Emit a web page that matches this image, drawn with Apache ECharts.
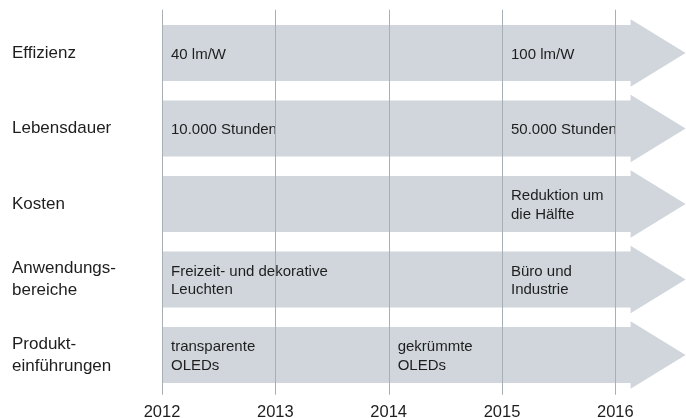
<!DOCTYPE html>
<html>
<head>
<meta charset="utf-8">
<script src="https://cdn.jsdelivr.net/npm/echarts@6/dist/echarts.min.js"></script>
<style>html,body{margin:0;padding:0;background:#fff}#c{width:686px;height:418px}</style>
</head>
<body>
<div id="c"></div>
<script>
// ---- data ----
const years = [2012, 2013, 2014, 2015, 2016];
const rowLabels = ['Effizienz', 'Lebensdauer', 'Kosten', 'Anwendungs-\nbereiche', 'Produkt-\neinführungen'];
const arrowStart = 2012;
const arrowEnd = 2016.62;
const eventRows = [0, 0, 1, 1, 2, 3, 3, 4, 4];
const eventYears = [2012, 2015, 2012, 2015, 2015, 2012, 2015, 2012, 2014];
const eventTexts = [
  '40 lm/W', '100 lm/W',
  '10.000 Stunden', '50.000 Stunden',
  'Reduktion um\ndie Hälfte',
  'Freizeit- und dekorative\nLeuchten', 'Büro und\nIndustrie',
  'transparente\nOLEDs', 'gekrümmte\nOLEDs'
];

const FONT = '"Liberation Sans", Arial, Helvetica, sans-serif';
const BAR = '#d0d6dc';
const LINE = '#a7afb7';
const TXT = '#1e1e1e';

const chart = echarts.init(document.getElementById('c'), null, {renderer: 'canvas'});

const arrowData = rowLabels.map((_, i) => [arrowStart, arrowEnd, i]);
const eventData = eventTexts.map((t, i) => [eventYears[i], eventRows[i], t]);

chart.setOption({
  animation: false,
  backgroundColor: '#fff',
  grid: {left: 162, top: 15.25, width: 453.33, height: 377.5, containLabel: false, outerBoundsMode: 'none'},
  xAxis: {
    type: 'value', min: 2012, max: 2016, interval: 1,
    axisLine: {show: false}, axisTick: {show: false}, splitLine: {show: false},
    axisLabel: {color: TXT, fontFamily: FONT, fontSize: 16.5, lineHeight: 17, margin: 11,
      formatter: v => String(v)}
  },
  yAxis: {
    type: 'category', data: rowLabels, inverse: true,
    axisLine: {show: false}, axisTick: {show: false}, splitLine: {show: false},
    axisLabel: {color: TXT, fontFamily: FONT, fontSize: 17, lineHeight: 22, align: 'left', margin: 150,
      padding: [4, 0, 0, 0]}
  },
  series: [
    {
      type: 'custom', z: 1, clip: false,
      data: arrowData,
      encode: {x: [0, 1], y: 2},
      renderItem: function (params, api) {
        const s = api.coord([api.value(0), api.value(2)]);
        const e = api.coord([api.value(1), api.value(2)]);
        const band = api.size([0, 1])[1];
        const hb = band * 0.371;
        const hh = band * 0.447;
        const headLen = 55;
        const hx = e[0] - headLen;
        return {
          type: 'polygon',
          shape: {points: [
            [s[0], s[1] - hb], [hx, s[1] - hb], [hx, s[1] - hh], [e[0], s[1]],
            [hx, s[1] + hh], [hx, s[1] + hb], [s[0], s[1] + hb]
          ]},
          style: {fill: BAR}
        };
      }
    },
    {
      type: 'custom', z: 2, clip: false,
      data: eventData,
      encode: {x: 0, y: 1},
      renderItem: function (params, api) {
        const p = api.coord([api.value(0), api.value(1)]);
        return {
          type: 'text',
          style: {
            x: p[0] + 9, y: p[1] + 1.5,
            text: eventTexts[params.dataIndex],
            fill: TXT, font: '15px ' + FONT,
            lineHeight: 18.5,
            textAlign: 'left', textVerticalAlign: 'middle'
          }
        };
      }
    },
    {
      type: 'custom', z: 3, clip: false,
      data: years.map(y => [y]),
      encode: {x: 0},
      renderItem: function (params, api) {
        const p = api.coord([api.value(0), 0]);
        const cs = params.coordSys;
        const x = Math.round(p[0]) + 0.5;
        return {
          type: 'line',
          shape: {x1: x, y1: cs.y - 5.5, x2: x, y2: cs.y + cs.height + 2},
          style: {stroke: LINE, lineWidth: 1}
        };
      }
    }
  ]
});
</script>
</body>
</html>
